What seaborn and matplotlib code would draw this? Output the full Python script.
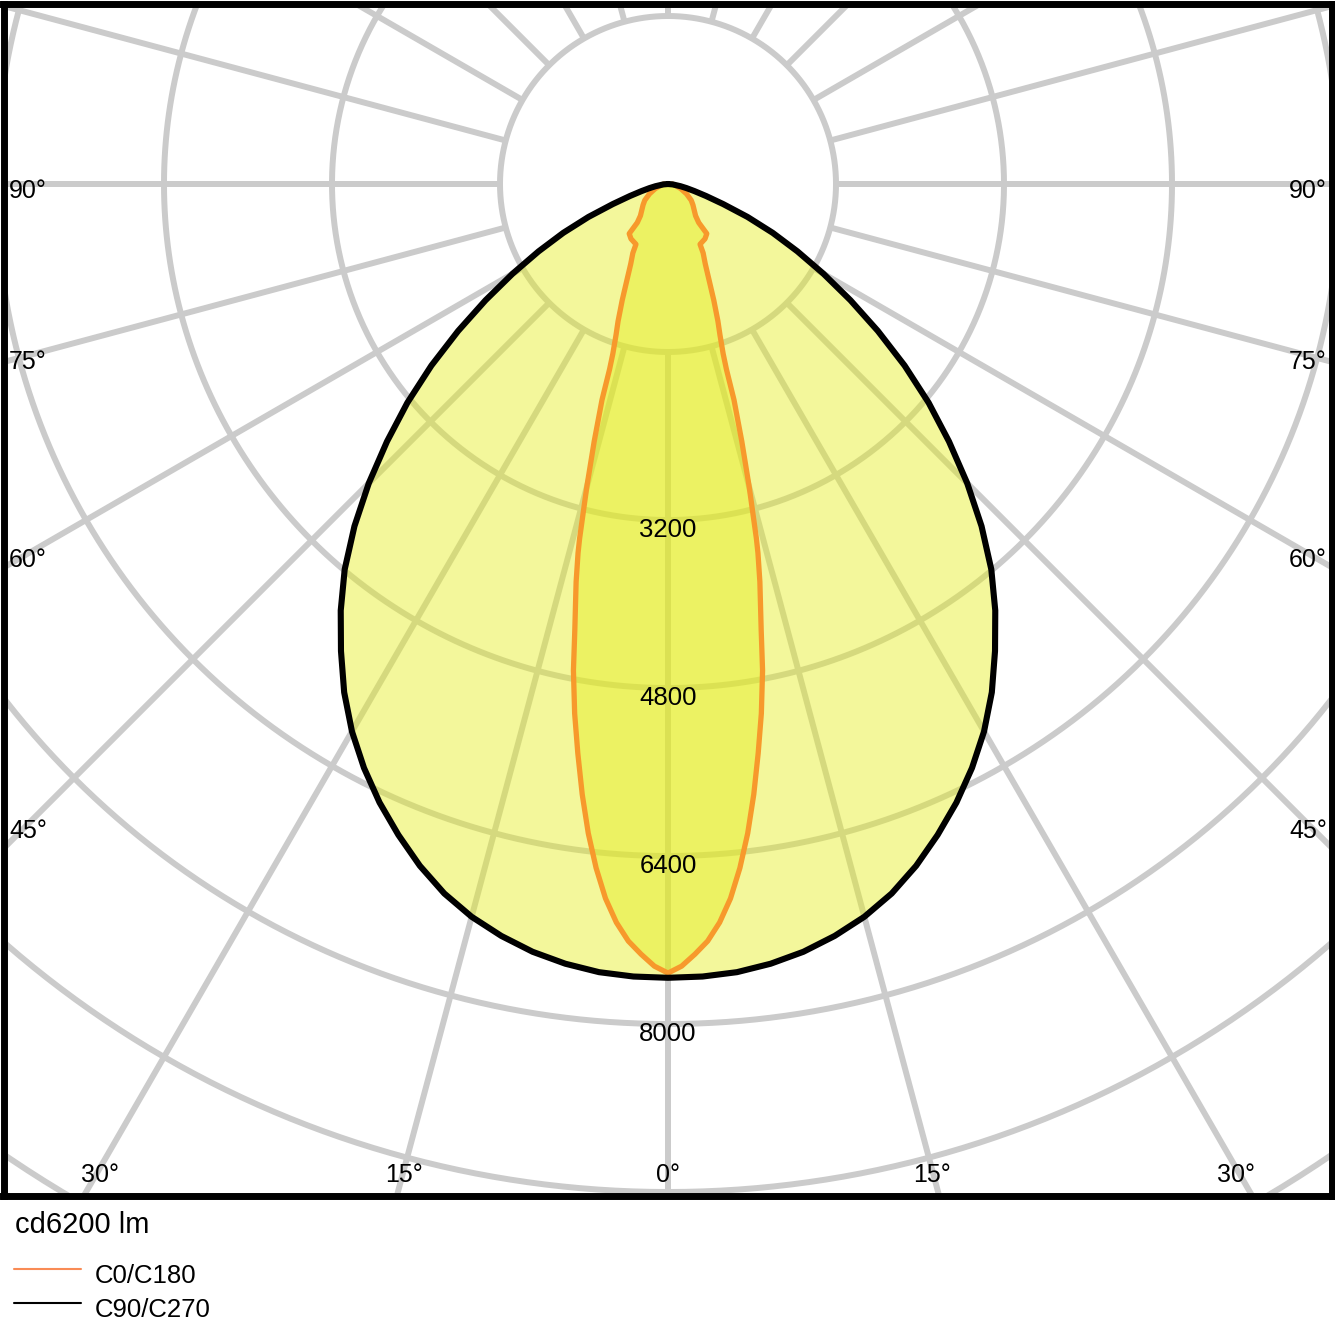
import numpy as np
import pandas as pd
import matplotlib
matplotlib.use("Agg")
import matplotlib.pyplot as plt
from matplotlib.lines import Line2D
import seaborn as sns

# Luminous intensity (cd) by gamma angle (deg from nadir)
c0_gamma = [0, 1, 2, 3, 4, 5, 6, 7, 8, 9, 10, 11, 11.8, 13, 13.7, 14, 15, 16, 17,
            17.5, 18, 19, 20, 21.5, 23, 25, 27, 28, 34, 38, 38.5, 41, 50, 55, 62,
            70, 80, 90]
c0_cd = [7515, 7450, 7340, 7220, 7050, 6830, 6550, 6230, 5870, 5490, 5120, 4720,
         4340, 3890, 3617, 3480, 2990, 2550, 2150, 1850, 1700, 1520, 1390, 1190,
         1010, 840, 737, 650, 630, 600, 470, 400, 310, 270, 200, 130, 70, 40]

c90_gamma = [0, 2.5, 5, 7.5, 10, 12.5, 15, 17.5, 20, 22.5, 25, 27.5, 30, 32.5, 35,
             37.5, 40, 42.5, 45, 47.5, 50, 52.5, 55, 57.5, 60, 62.5, 65, 67.5, 70,
             72.5, 75, 77.5, 80, 85, 90]
c90_cd = [7560, 7555, 7535, 7490, 7425, 7335, 7225, 7085, 6910, 6710, 6500, 6270,
          6020, 5740, 5430, 5120, 4790, 4420, 4030, 3630, 3240, 2840, 2440, 2060,
          1710, 1390, 1100, 820, 560, 380, 260, 180, 120, 45, 0]

ring_values = [1600, 3200, 4800, 6400, 8000, 9600, 11200, 12800]
ring_labels = ["", "3200", "4800", "6400", "8000", "", "", ""]
spoke_angles = list(range(0, 360, 15))
angle_labels = [0, 15, 30, 45, 60, 75, 90]
flux_text = "cd6200 lm"
series_names = ["C0/C180", "C90/C270"]

W = 1335
PX = 0.105          # pixels per cd
CX, CY = 668, 184   # pole position in pixels

GRID = "#cbcbcb"
FILL = "#e4ed1c"
ORANGE = "#f7992c"


def mirror(gamma, cd):
    """Closed outline: left half (C180/C270) then right half (C0/C90)."""
    g = np.radians(np.asarray(gamma, dtype=float))
    i = np.asarray(cd, dtype=float)
    x = np.concatenate([-(i * np.sin(g))[::-1], (i * np.sin(g))[1:]])
    y = np.concatenate([-(i * np.cos(g))[::-1], -(i * np.cos(g))[1:]])
    return pd.DataFrame({"x": x, "y": y})


sns.set_theme(style="white")
plt.rcParams["font.family"] = ["Liberation Sans", "DejaVu Sans"]
plt.rcParams["text.color"] = "black"

fig = plt.figure(figsize=(W / 100, W / 100), dpi=100)
left, right, top, bottom = 3.5, 1331.5, 3.5, 1196
ax = fig.add_axes([left / W, 1 - bottom / W, (right - left) / W, (bottom - top) / W])
ax.set_xlim((left - CX) / PX, (right - CX) / PX)
ax.set_ylim(-(bottom - CY) / PX, (CY - top) / PX)
ax.set_facecolor("white")

# rings
t = np.linspace(0, 2 * np.pi, 721)
for r in ring_values:
    ax.plot(r * np.cos(t), r * np.sin(t), color=GRID, lw=4.3, zorder=1)

# spokes start at the innermost ring
r0, r1 = ring_values[0], 20000
for a in spoke_angles:
    s, c = np.sin(np.radians(a)), -np.cos(np.radians(a))
    ax.plot([r0 * s, r1 * s], [r0 * c, r1 * c], color=GRID, lw=4.3,
            solid_capstyle="butt", zorder=1)

# distributions
c90 = mirror(c90_gamma, c90_cd)
c0 = mirror(c0_gamma, c0_cd)
ax.fill(c90["x"], c90["y"], color=FILL, alpha=0.44, lw=0, zorder=2)
ax.fill(c0["x"], c0["y"], color=FILL, alpha=0.44, lw=0, zorder=3)
sns.lineplot(data=c0, x="x", y="y", sort=False, estimator=None, color=ORANGE,
             lw=3.8, ax=ax, zorder=4)
sns.lineplot(data=c90, x="x", y="y", sort=False, estimator=None, color="black",
             lw=4.4, ax=ax, zorder=5)

# ring values
for r, lab in zip(ring_values, ring_labels):
    if lab:
        ax.annotate(lab, xy=(0, -r), xytext=(0, -12.2), textcoords="offset points",
                    ha="center", va="baseline", fontsize=18.5, color="black", zorder=6)

# angle labels where each spoke meets an inset box
half_w, depth = 640 / PX, 984 / PX
for a in angle_labels:
    s, c = np.sin(np.radians(a)), np.cos(np.radians(a))
    d = min(half_w / s if s > 1e-9 else np.inf, depth / c if c > 1e-9 else np.inf)
    sides = [1] if a == 0 else [-1, 1]
    for sd in sides:
        ax.annotate(f"{a}°", xy=(sd * d * s, -d * c), xytext=(0, -10),
                    textcoords="offset points", ha="center", va="baseline",
                    fontsize=18, color="black", zorder=6)

ax.set_xticks([])
ax.set_yticks([])
ax.set_xlabel("")
ax.set_ylabel("")
for sp in ax.spines.values():
    sp.set_visible(True)
    sp.set_color("black")
    sp.set_linewidth(5.0)
    sp.set_zorder(10)

# caption and legend below the frame
def fy(py):
    return 1 - py / W

fig.text(15 / W, fy(1233), flux_text, fontsize=21, ha="left", va="baseline")
legend_colors = ["#f98b55", "black"]
for k, (name, col) in enumerate(zip(series_names, legend_colors)):
    ly = 1269 + k * 34
    fig.add_artist(Line2D([14 / W, 81 / W], [fy(ly), fy(ly)], color=col, lw=1.5,
                          transform=fig.transFigure))
    fig.text(95 / W, fy(ly + 14), name, fontsize=18.5, ha="left", va="baseline")

fig.savefig("out.png", dpi=100, facecolor="white")
